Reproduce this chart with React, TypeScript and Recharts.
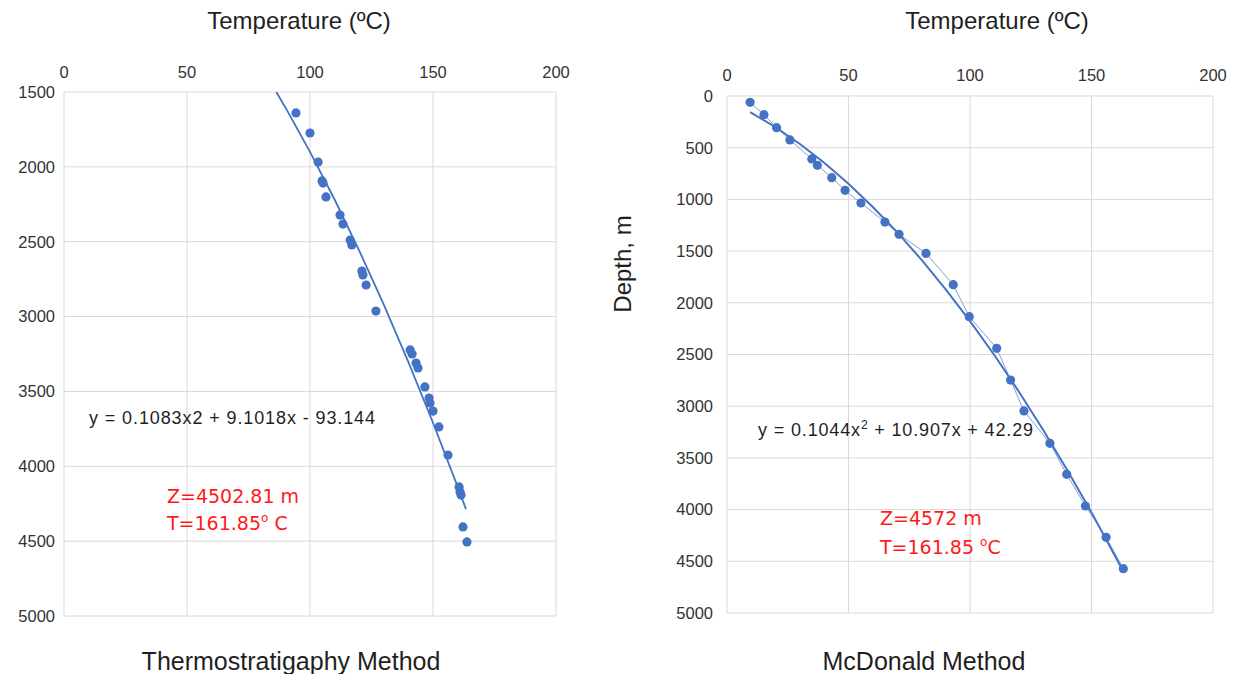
import React from "react";
import { ScatterChart, Scatter, XAxis, YAxis, CartesianGrid } from "recharts";

// ---------- Thermostratigraphy (left) ----------
const leftTemp = [94.3, 100, 103.3, 104.9, 105.3, 106.5, 112.2, 113.4, 116.3, 117, 121.1, 121.5, 122.8, 126.8, 140.7, 141.5, 143.1, 143.9, 146.7, 148.4, 148.8, 150, 152.4, 156.1, 160.6, 161, 161.4, 162.2, 163.8];
const leftDepth = [1640, 1774, 1968, 2094, 2108, 2201, 2322, 2382, 2489, 2522, 2696, 2722, 2789, 2963, 3223, 3250, 3310, 3343, 3470, 3544, 3577, 3631, 3737, 3925, 4138, 4172, 4192, 4405, 4505];
const leftTrendTemp = [86.3, 90, 100, 110, 120, 130, 140, 150, 160, 163.4];
const leftTrendDepth = [1500, 1603, 1900, 2218, 2559, 2920, 3304, 3709, 4136, 4286];

// ---------- McDonald (right) ----------
const rightTemp = [9.5, 15.2, 20.4, 25.9, 34.9, 37.2, 43.1, 48.6, 55.1, 65, 70.8, 81.9, 93.1, 99.7, 111, 116.7, 122.2, 132.9, 139.8, 147.5, 156, 163.1];
const rightDepth = [61, 181, 306, 425, 609, 670, 790, 912, 1035, 1219, 1338, 1522, 1825, 2134, 2440, 2747, 3046, 3359, 3659, 3965, 4268, 4571];
const rightTrendTemp = [9.5, 20, 30, 40, 50, 60, 70, 80, 90, 100, 110, 120, 130, 140, 150, 163];
const rightTrendDepth = [155, 302, 464, 646, 849, 1073, 1317, 1583, 1870, 2177, 2505, 2855, 3225, 3616, 4027, 4594];

const tempTicks = [0, 50, 100, 150, 200];
const leftDepthTicks = [1500, 2000, 2500, 3000, 3500, 4000, 4500, 5000];
const rightDepthTicks = [0, 500, 1000, 1500, 2000, 2500, 3000, 3500, 4000, 4500, 5000];

const zip = (t: number[], d: number[]) => t.map((x, i) => ({ t: x, d: d[i] }));

const BLUE = "#4472C4";
const FONT = "'Liberation Sans', Arial, sans-serif";
const tickStyle = { fill: "#333333", fontSize: 16.5, fontFamily: FONT };

const Dot = (p: any) => <circle cx={p.cx} cy={p.cy} r={4.6} fill={BLUE} />;
const NoDot = () => <g />;

export default function App() {
  const leftPts = zip(leftTemp, leftDepth);
  const leftTrend = zip(leftTrendTemp, leftTrendDepth);
  const rightPts = zip(rightTemp, rightDepth);
  const rightTrend = zip(rightTrendTemp, rightTrendDepth);

  return (
    <div style={{ position: "absolute", left: 0, top: 0, width: 1237, height: 674, background: "#fff", overflow: "hidden" }}>
      <div style={{ position: "absolute", left: 0, top: 0 }}>
        <ScatterChart width={600} height={640} margin={{ top: 72, right: 44, bottom: 24, left: 14 }}>
          <CartesianGrid stroke="#d9d9d9" strokeWidth={1} />
          <XAxis type="number" dataKey="t" orientation="top" domain={[0, 200]} ticks={tempTicks} height={20}
            axisLine={false} tickLine={false} tickSize={0} tickMargin={14} tick={tickStyle} interval={0} allowDataOverflow />
          <YAxis type="number" dataKey="d" reversed domain={[1500, 5000]} ticks={leftDepthTicks} width={50}
            axisLine={false} tickLine={false} tickSize={0} tickMargin={9} tick={tickStyle} interval={0} allowDataOverflow />
          <Scatter data={leftTrend} line={{ stroke: BLUE, strokeWidth: 1.8 }} shape={NoDot} isAnimationActive={false} />
          <Scatter data={leftPts} shape={Dot} isAnimationActive={false} />
        </ScatterChart>
      </div>
      <div style={{ position: "absolute", left: 620, top: 0 }}>
        <ScatterChart width={617} height={640} margin={{ top: 76, right: 24, bottom: 27, left: 57 }}>
          <CartesianGrid stroke="#d9d9d9" strokeWidth={1} />
          <XAxis type="number" dataKey="t" orientation="top" domain={[0, 200]} ticks={tempTicks} height={20}
            axisLine={false} tickLine={false} tickSize={0} tickMargin={15} tick={tickStyle} interval={0} allowDataOverflow />
          <YAxis type="number" dataKey="d" reversed domain={[0, 5000]} ticks={rightDepthTicks} width={50}
            axisLine={false} tickLine={false} tickSize={0} tickMargin={14} tick={tickStyle} interval={0} allowDataOverflow />
          <Scatter data={rightPts} line={{ stroke: "#7f9fd6", strokeWidth: 1 }} shape={NoDot} isAnimationActive={false} />
          <Scatter data={rightTrend} line={{ stroke: BLUE, strokeWidth: 2 }} shape={NoDot} isAnimationActive={false} />
          <Scatter data={rightPts} shape={Dot} isAnimationActive={false} />
        </ScatterChart>
      </div>
      <svg width={1237} height={674} style={{ position: "absolute", left: 0, top: 0, pointerEvents: "none" }}>
        <g fontFamily={FONT} fill="#1f1f1f">
          <text x={299} y={20} fontSize={24} textAnchor="middle" dominantBaseline="central">Temperature (ºC)</text>
          <text x={997} y={20} fontSize={24} textAnchor="middle" dominantBaseline="central">Temperature (ºC)</text>
          <text x={291} y={661} fontSize={25} textAnchor="middle" dominantBaseline="central">Thermostratigaphy Method</text>
          <text x={924} y={661} fontSize={25} textAnchor="middle" dominantBaseline="central">McDonald Method</text>
          <text x={622} y={264} fontSize={24} textAnchor="middle" dominantBaseline="central" transform="rotate(-90 622 264)">Depth, m</text>
          <text x={89} y={424} fontSize={18} textLength={286} lengthAdjust="spacing">y = 0.1083x2 + 9.1018x - 93.144</text>
          <text x={758} y={436} fontSize={18} textLength={275} lengthAdjust="spacing">
            y = 0.1044x<tspan fontSize={12} dy={-7}>2</tspan><tspan dy={7}> + 10.907x + 42.29</tspan>
          </text>
        </g>
        <g fontFamily="'DejaVu Sans', sans-serif" fill="#ff1a1a" fontSize={19}>
          <text x={167} y={503}>Z=4502.81 m</text>
          <text x={167} y={530}>T=161.85<tspan fontSize={12} dy={-8}>o</tspan><tspan dy={8}> C</tspan></text>
          <text x={880} y={525}>Z=4572 m</text>
          <text x={880} y={554}>T=161.85 <tspan fontSize={12} dy={-8}>o</tspan><tspan dy={8}>C</tspan></text>
        </g>
      </svg>
    </div>
  );
}
